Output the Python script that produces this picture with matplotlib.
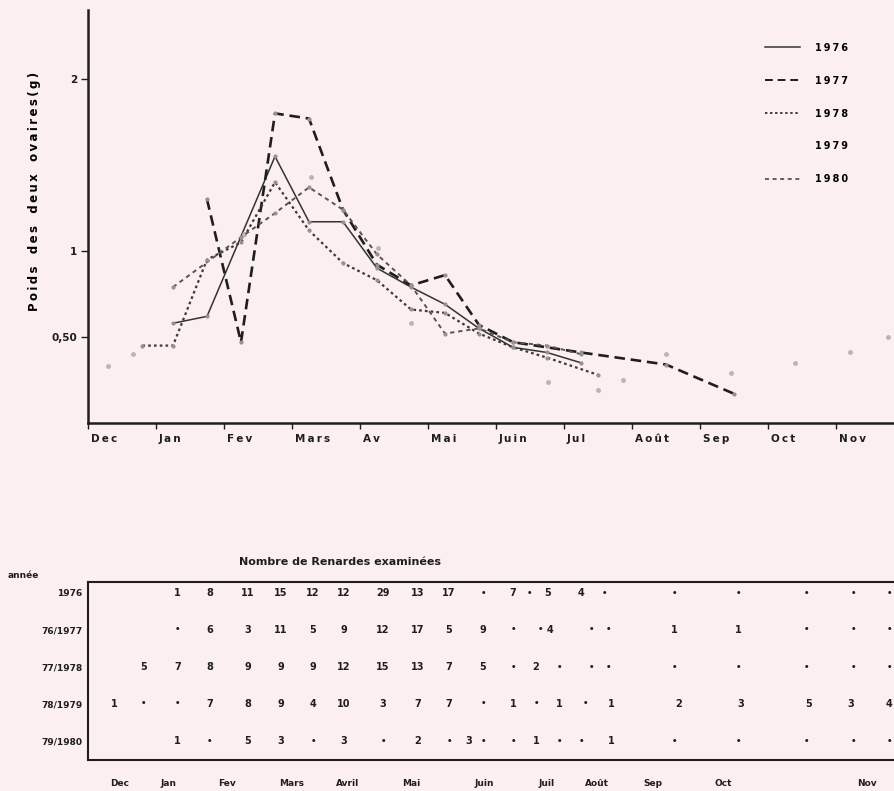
import numpy as np
import matplotlib.pyplot as plt
import matplotlib.transforms as mtransforms
from matplotlib.lines import Line2D

# month position: 0 = debut decembre, 1 = debut janvier, ...
months_top = ["Dec", "Jan", "Fev", "Mars", "Av", "Mai", "Juin", "Jul", "Août", "Sep", "Oct", "Nov"]

m1976 = [1.25, 1.75, 2.75, 3.25, 3.75, 4.25, 4.75, 5.25, 5.75, 6.25, 6.75, 7.25]
w1976 = [0.58, 0.62, 1.55, 1.17, 1.17, 0.90, 0.79, 0.69, 0.55, 0.44, 0.41, 0.35]

m1977 = [1.75, 2.25, 2.75, 3.25, 3.75, 4.25, 4.75, 5.25, 5.75, 6.25, 7.25, 8.5, 9.5]
w1977 = [1.30, 0.47, 1.80, 1.77, 1.24, 0.92, 0.80, 0.86, 0.57, 0.47, 0.41, 0.34, 0.17]

m1978 = [0.8, 1.25, 1.75, 2.25, 2.75, 3.25, 3.75, 4.25, 4.75, 5.25, 5.75, 6.25, 6.75, 7.5]
w1978 = [0.45, 0.45, 0.95, 1.05, 1.40, 1.12, 0.93, 0.83, 0.66, 0.64, 0.52, 0.44, 0.38, 0.28]

m1979 = [0.3, 0.66, 2.3, 3.28, 4.26, 4.75, 6.76, 7.5, 7.87, 8.5, 9.46, 10.4, 11.2, 11.76]
w1979 = [0.33, 0.40, 1.10, 1.43, 1.02, 0.58, 0.24, 0.19, 0.25, 0.40, 0.29, 0.35, 0.41, 0.50]

m1980 = [1.25, 2.25, 2.75, 3.25, 3.75, 4.25, 4.75, 5.25, 5.75, 6.25, 6.75, 7.25]
w1980 = [0.79, 1.08, 1.22, 1.37, 1.24, 0.98, 0.80, 0.52, 0.55, 0.47, 0.45, 0.40]

# tableau : nombre de renardes examinees (position en mois, texte)
row_labels = ["1976", "76/1977", "77/1978", "78/1979", "79/1980"]
n1976 = [(1.32, "1"), (1.79, "8"), (2.35, "11"), (2.84, "15"), (3.31, "12"), (3.76, "12"),
         (4.34, "29"), (4.85, "13"), (5.31, "17"), (5.81, "•"), (6.25, "7"), (6.49, "•"),
         (6.76, "5"), (7.25, "4"), (7.59, "•"), (8.62, "•"), (9.56, "•"), (10.56, "•"),
         (11.26, "•"), (11.78, "•")]
n1977 = [(1.32, "•"), (1.79, "6"), (2.35, "3"), (2.84, "11"), (3.31, "5"), (3.76, "9"),
         (4.34, "12"), (4.85, "17"), (5.31, "5"), (5.81, "9"), (6.25, "•"), (6.66, "•"),
         (6.80, "4"), (7.40, "•"), (7.65, "•"), (8.62, "1"), (9.56, "1"), (10.56, "•"),
         (11.26, "•"), (11.78, "•")]
n1978 = [(0.82, "5"), (1.32, "7"), (1.79, "8"), (2.35, "9"), (2.84, "9"), (3.31, "9"),
         (3.76, "12"), (4.34, "15"), (4.85, "13"), (5.31, "7"), (5.81, "5"), (6.25, "•"),
         (6.59, "2"), (6.93, "•"), (7.40, "•"), (7.65, "•"), (8.62, "•"), (9.56, "•"),
         (10.56, "•"), (11.26, "•"), (11.78, "•")]
n1979 = [(0.38, "1"), (0.82, "•"), (1.32, "•"), (1.79, "7"), (2.35, "8"), (2.84, "9"),
         (3.31, "4"), (3.76, "10"), (4.34, "3"), (4.85, "7"), (5.31, "7"), (5.81, "•"),
         (6.25, "1"), (6.59, "•"), (6.93, "1"), (7.32, "•"), (7.69, "1"), (8.69, "2"),
         (9.60, "3"), (10.60, "5"), (11.22, "3"), (11.78, "4")]
n1980 = [(1.32, "1"), (1.79, "•"), (2.35, "5"), (2.84, "3"), (3.31, "•"), (3.76, "3"),
         (4.34, "•"), (4.85, "2"), (5.31, "•"), (5.60, "3"), (5.81, "•"), (6.25, "•"),
         (6.59, "1"), (6.93, "•"), (7.25, "•"), (7.69, "1"), (8.62, "•"), (9.56, "•"),
         (10.56, "•"), (11.26, "•"), (11.78, "•")]
table_rows = [n1976, n1977, n1978, n1979, n1980]

months_table = ["Dec", "Jan", "Fev", "Mars", "Avril", "Mai", "Juin", "Juil", "Août", "Sep", "Oct", "Nov"]
months_table_pos = [0.46, 1.19, 2.04, 3.0, 3.81, 4.75, 5.82, 6.75, 7.49, 8.31, 9.34, 11.46]

bg = "#fcefef"
ink = "#1e1e1e"
plt.rcParams["font.family"] = ["DejaVu Sans"]
plt.rcParams["font.weight"] = "bold"


def spaced(s):
    # lettres espacees comme sur l'original
    return "\u2009".join(s)


fig = plt.figure(figsize=(8.94, 7.91), dpi=100, facecolor=bg)

# ---- courbes ----
ax = fig.add_axes([88 / 894, 1 - 423 / 791, 806 / 894, 413 / 791], facecolor=bg)
ax.plot(m1976, w1976, color="#333333", lw=1.1, ls="-")
ax.plot(m1977, w1977, color=ink, lw=1.9, ls=(0, (4, 2.2)))
ax.plot(m1978, w1978, color="#3a3a3a", lw=1.6, ls=(0, (1.2, 1.4)))
ax.plot(m1979, w1979, color="#bdb4b4", lw=0, marker="o", ms=2.5)
ax.plot(m1980, w1980, color="#555555", lw=1.4, ls=(0, (2.2, 2.0)))
for mm, ww in [(m1976, w1976), (m1977, w1977), (m1978, w1978), (m1980, w1980)]:
    ax.plot(mm, ww, ls="none", marker="o", ms=2.0, color="#9a9090")

ax.set_xlim(0, 806 / 68)
ax.set_ylim(0, 413 / 172)
for s in ["top", "right"]:
    ax.spines[s].set_visible(False)
for s in ["left", "bottom"]:
    ax.spines[s].set_linewidth(1.8)
    ax.spines[s].set_color(ink)

ax.set_yticks([0.5, 1, 2])
ax.set_yticklabels(["0,50", "1", "2"], fontsize=7.5, fontweight="bold")
ax.tick_params(axis="y", length=5, width=1, direction="out", pad=3, colors=ink)
ax.set_xticks(range(12))
ax.set_xticklabels([spaced(m) for m in months_top], fontsize=7.5, fontweight="bold")
ax.tick_params(axis="x", length=4, width=1, direction="out", pad=4, colors=ink)
offset = mtransforms.ScaledTranslation(2 / 72, 0, fig.dpi_scale_trans)
for lab in ax.get_xticklabels():
    lab.set_horizontalalignment("left")
    lab.set_transform(lab.get_transform() + offset)

ax.set_ylabel(spaced("Poids") + "   " + spaced("des") + "   " + spaced("deux") + "   " + spaced("ovaires(g)"),
              fontsize=8.5, fontweight="bold")
ax.yaxis.set_label_coords(-0.058, 0.56)

handles = [
    Line2D([], [], color="#333333", lw=1.1, ls="-"),
    Line2D([], [], color=ink, lw=1.4, ls=(0, (4, 2.5))),
    Line2D([], [], color="#3a3a3a", lw=1.4, ls=(0, (1.2, 1.4))),
    Line2D([], [], ls="none"),
    Line2D([], [], color="#555555", lw=1.3, ls=(0, (2.2, 2.0))),
]
fig.legend(handles, [spaced(y) for y in ["1976", "1977", "1978", "1979", "1980"]], loc="upper left",
           bbox_to_anchor=(760 / 894, 1 - 38 / 791), frameon=False,
           handlelength=3.6, handletextpad=1.6, labelspacing=2.35, borderpad=0,
           prop={"weight": "bold", "size": 7})

# ---- tableau ----
tx = fig.add_axes([88 / 894, 1 - 760 / 791, 806 / 894, 178 / 791], facecolor=bg)
tx.set_xlim(0, 806 / 68)
tx.set_ylim(4 + 19 / 37, -11 / 37)
tx.spines["right"].set_visible(False)
for s in ["top", "left", "bottom"]:
    tx.spines[s].set_linewidth(1.5)
    tx.spines[s].set_color(ink)
for i, row in enumerate(table_rows):
    for pos, txt in row:
        if txt == "•":
            tx.text(pos, i, txt, ha="center", va="center", fontsize=6, color=ink)
        else:
            tx.text(pos, i, txt, ha="center", va="center", fontsize=7, fontweight="bold", color=ink)
tx.set_yticks(range(5))
tx.set_yticklabels(row_labels, fontsize=6.5, fontweight="bold")
tx.set_xticks(months_table_pos)
tx.set_xticklabels(months_table, fontsize=6.5, fontweight="bold")
tx.tick_params(axis="both", length=0, colors=ink)
tx.tick_params(axis="x", pad=14)
tx.tick_params(axis="y", pad=4)

fig.text(340 / 894, 1 - 562 / 791, "Nombre de Renardes examinées", ha="center", va="center",
         fontsize=8, fontweight="bold", color=ink)
fig.text(8 / 894, 1 - 576 / 791, "année", ha="left", va="center", fontsize=6.5,
         fontweight="bold", color=ink)

fig.savefig("out.png", dpi=100, facecolor=bg)
